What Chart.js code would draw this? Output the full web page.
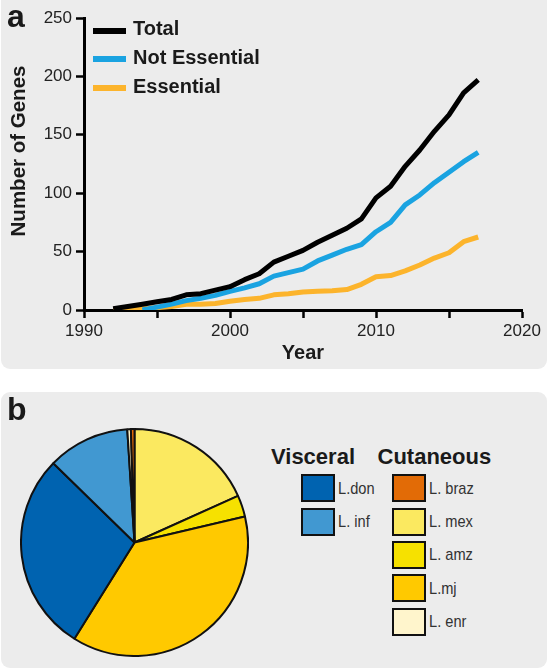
<!DOCTYPE html>
<html><head><meta charset="utf-8">
<script src="https://cdn.jsdelivr.net/npm/chart.js@4.4.1/dist/chart.umd.min.js"></script>
<style>
html,body{margin:0;padding:0;background:#fff;width:548px;height:669px;overflow:hidden;font-family:"Liberation Sans",Arial,sans-serif;}
.panel{position:absolute;background:#ececec;border-radius:9px;}
.abs{position:absolute;white-space:nowrap;line-height:1;color:#1a1a1a;}
.bold{font-weight:bold;}
.narrow{font-family:"Liberation Sans",Arial,sans-serif;transform:scaleX(0.86);transform-origin:0 50%;}
canvas{position:absolute;}
</style></head><body>
<div class="panel" style="left:1px;top:-10px;width:546px;height:379px"></div>
<div class="panel" style="left:1px;top:392px;width:546px;height:276px"></div>
<canvas id="lineChart" width="548" height="369" style="left:0;top:0"></canvas>
<canvas id="pieChart" width="229" height="229" style="left:20px;top:428px"></canvas>
<div class="abs bold" style="left:7px;top:-0.5px;font-size:32px">a</div>
<div class="abs bold" style="left:7px;top:393px;font-size:32px">b</div>
<div class="abs bold" style="left:17.7px;top:151px;font-size:20.5px;transform:translate(-50%,-50%) rotate(-90deg)">Number of Genes</div>
<div id="legendA"></div>
<div id="legendB"></div>
<script>
// ---- Panel a data ----
const years = [1992,1993,1994,1995,1996,1997,1998,1999,2000,2001,2002,2003,2004,2005,2006,2007,2008,2009,2010,2011,2012,2013,2014,2015,2016,2017];
const totalGenes   = [1,3,5,7,9,13,14,17,20,26,31,41,46,51,58,64,70,78,96,106,123,137,153,167,186,197];
const notEssential = [null,null,0,2.5,5,8,10,12.5,16,19,22.5,29,32,35,42,47,52,56,67,75,90,98.5,109,118,127,135];
const essential    = [0,0.5,1,2,3,5,5,5.5,7.5,9,10,13,14,15.5,16,16.5,17.5,22,28.5,29.5,33.5,38.5,44.5,49,58.5,62.5];
const seriesNames  = ['Total','Not Essential','Essential'];
const seriesColors = ['#000000','#1aa3e1','#fcb42c'];
const xTicks = [1990,2000,2010,2020];
const yTicks = [0,50,100,150,200,250];

// ---- Panel b data (pie, drawn clockwise from top) ----
const pieLabels = ['L. mex','L. amz','L.mj','L.don','L. inf','L. enr','L. braz'];
const pieValues = [36,6,74,56,23,1,1];
const pieColors = ['#fbe960','#f6e100','#ffc900','#0063b0','#4198d1','#fff5cc','#e26b06'];
const visceral  = ['L.don','L. inf'];
const cutaneous = ['L. braz','L. mex','L. amz','L.mj','L. enr'];

function toXY(vals){ return years.map((y,i)=>({x:y,y:vals[i]})).filter(p=>p.y!==null); }
const seriesValues = [totalGenes, notEssential, essential];

Chart.defaults.font.family = '"Liberation Sans", Arial, sans-serif';
Chart.defaults.font.size = 17;
const axisGrid = {display:true, drawOnChartArea:false, drawTicks:true, tickLength:8, tickWidth:2.5, tickColor:'#000'};
const axisBorder = {display:true, color:'#000', width:3};

new Chart(document.getElementById('lineChart'), {
  type:'line',
  data:{datasets: seriesNames.map((n,i)=>({
    label:n, data:toXY(seriesValues[i]), borderColor:seriesColors[i], backgroundColor:seriesColors[i],
    borderWidth:5, pointRadius:0, tension:0, fill:false, borderJoinStyle:'round', order:i
  }))},
  options:{
    responsive:false, animation:false, events:[],
    layout:{padding:{top:18, right:26, bottom:0, left:0}},
    plugins:{legend:{display:false}, tooltip:{enabled:false}},
    scales:{
      x:{type:'linear', min:1990, max:2020,
         afterFit:s=>{s.height=59;},
         ticks:{stepSize:5, autoSkip:false, maxRotation:0, padding:3, color:'#222', font:{size:17},
                callback:v=>xTicks.includes(v)?String(v):''},
         grid:axisGrid, border:axisBorder,
         title:{display:true, text:'Year', color:'#1a1a1a', font:{size:20, weight:'bold'}, padding:{top:0,bottom:4}}},
      y:{min:0, max:250,
         afterFit:s=>{s.width=84;},
         ticks:{stepSize:50, padding:4, color:'#222', font:{size:17},
                callback:v=>yTicks.includes(v)?String(v):''},
         grid:axisGrid, border:axisBorder}
    }
  }
});

new Chart(document.getElementById('pieChart'), {
  type:'pie',
  data:{labels:pieLabels, datasets:[{data:pieValues, backgroundColor:pieColors, borderColor:'#111', borderWidth:2}]},
  options:{responsive:false, animation:false, events:[], layout:{padding:0},
    plugins:{legend:{display:false}, tooltip:{enabled:false}}}
});

// ---- legend a ----
const la = document.getElementById('legendA');
const lineCenters = [30.7, 59.3, 88.3];
seriesNames.forEach((n,i)=>{
  const l = document.createElement('div');
  l.style.cssText = `position:absolute;left:93px;width:33px;height:6px;top:${lineCenters[i]-3}px;background:${seriesColors[i]}`;
  la.appendChild(l);
  const t = document.createElement('div');
  t.className='abs bold';
  t.style.cssText += `left:133px;top:${35+i*29-16.9}px;font-size:20px`;
  t.textContent = n;
  la.appendChild(t);
});

// ---- legend b ----
const lb = document.getElementById('legendB');
function header(txt,x){ const d=document.createElement('div'); d.className='abs bold'; d.style.cssText+=`left:${x}px;top:446.4px;font-size:22px`; d.textContent=txt; lb.appendChild(d); }
header('Visceral',271); header('Cutaneous',377.5);
function column(list,x){
  list.forEach((lab,i)=>{
    const top = 474.3 + i*33.35;
    const c = pieColors[pieLabels.indexOf(lab)];
    const s = document.createElement('div');
    s.style.cssText = `position:absolute;left:${x}px;top:${top}px;width:34px;height:28px;box-sizing:border-box;border:2.5px solid #111;background:${c}`;
    lb.appendChild(s);
    const t = document.createElement('div');
    t.className='abs narrow';
    t.style.cssText += `left:${x+37}px;top:${top+13.7-8.5}px;font-size:17px;color:#333`;
    t.textContent = lab;
    lb.appendChild(t);
  });
}
column(visceral,300.6); column(cutaneous,391.5);
</script>
</body></html>
